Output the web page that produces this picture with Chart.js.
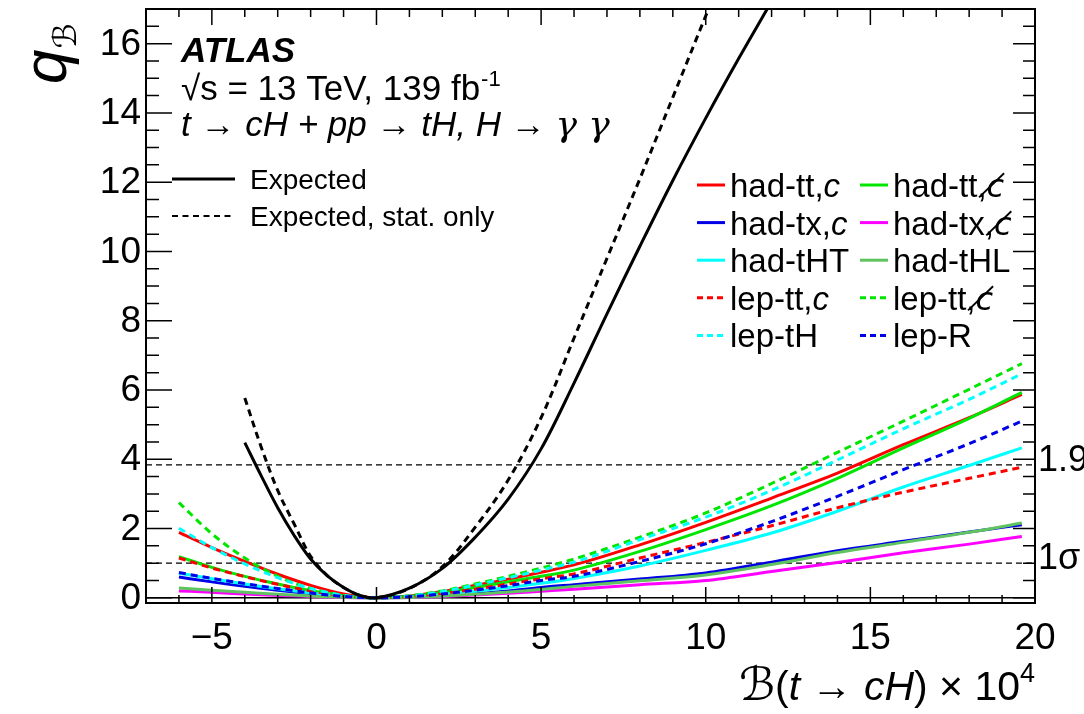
<!DOCTYPE html>
<html>
<head>
<meta charset="utf-8">
<script src="https://cdn.jsdelivr.net/npm/chart.js@4.4.0/dist/chart.umd.min.js"></script>
<style>
  html, body { margin: 0; padding: 0; background: #fff; }
  #wrap { width: 1084px; height: 714px; }
</style>
</head>
<body>
<div id="wrap"><canvas id="qChart" width="1084" height="714"></canvas></div>
<script>
// black curves (combined fit)
const xExp = [-4, -3.5, -3, -2.5, -2, -1.5, -1, -0.5, 0, 1, 2, 3, 4, 5, 6, 7, 8, 9, 10, 11, 12];
const qExpected = [4.48, 3.52, 2.6, 1.8, 1.12, 0.64, 0.3, 0.07, 0, 0.28, 0.85, 1.75, 2.85, 4.3, 6.2, 8.2, 10.15, 12.05, 13.85, 15.57, 17.22];
const qStatOnly = [5.77, 4.35, 3.1, 2.13, 1.2, 0.65, 0.3, 0.07, 0, 0.27, 0.9, 2.04, 3.4, 5.2, 7.5, 9.8, 12.1, 14.45, 16.8, 19.1, 21.4];

// per-category curves
const xCat = [-6, -5, -4, -3, -2, -1, 0, 1, 2, 3, 4, 5, 6, 8, 10, 12, 14, 16, 18, 19.6];
const hadTTc   = [1.89, 1.45, 1.05, 0.68, 0.36, 0.11, 0, 0.05, 0.18, 0.36, 0.54, 0.74, 0.95, 1.53, 2.18, 2.88, 3.6, 4.42, 5.2, 5.87];
const hadTTnc  = [1.19, 0.88, 0.62, 0.4, 0.21, 0.06, 0, 0.04, 0.15, 0.3, 0.46, 0.62, 0.8, 1.34, 1.97, 2.66, 3.45, 4.33, 5.18, 5.93];
const hadTXc   = [0.6, 0.46, 0.33, 0.22, 0.12, 0.03, 0, 0.02, 0.06, 0.12, 0.2, 0.3, 0.38, 0.54, 0.72, 1.03, 1.36, 1.63, 1.9, 2.11];
const hadTXnc  = [0.2, 0.16, 0.11, 0.07, 0.04, 0.01, 0, 0.01, 0.04, 0.08, 0.13, 0.19, 0.25, 0.38, 0.5, 0.76, 1.02, 1.3, 1.55, 1.77];
const hadTHT   = [0.71, 0.55, 0.4, 0.26, 0.14, 0.04, 0, 0.02, 0.09, 0.19, 0.3, 0.42, 0.56, 0.92, 1.37, 1.87, 2.5, 3.2, 3.82, 4.33];
const hadTHL   = [0.28, 0.22, 0.16, 0.1, 0.05, 0.015, 0, 0.01, 0.05, 0.1, 0.17, 0.24, 0.33, 0.49, 0.66, 0.96, 1.31, 1.6, 1.89, 2.16];
const lepTTc   = [1.15, 0.86, 0.61, 0.39, 0.2, 0.06, 0, 0.04, 0.13, 0.25, 0.4, 0.55, 0.69, 1.15, 1.6, 2.08, 2.6, 3.05, 3.45, 3.77];
const lepTTnc  = [2.75, 1.85, 1.15, 0.62, 0.27, 0.07, 0, 0.06, 0.2, 0.4, 0.62, 0.86, 1.12, 1.75, 2.45, 3.3, 4.2, 5.1, 6.02, 6.76];
const lepTH    = [2.01, 1.45, 0.98, 0.58, 0.27, 0.07, 0, 0.05, 0.18, 0.37, 0.58, 0.8, 1.03, 1.68, 2.33, 3.1, 3.98, 4.88, 5.73, 6.47];
const lepR     = [0.73, 0.56, 0.41, 0.27, 0.14, 0.04, 0, 0.03, 0.11, 0.22, 0.35, 0.5, 0.62, 1.05, 1.56, 2.2, 2.93, 3.7, 4.45, 5.1];

// axis ticks and reference levels
const xRange = [-7, 20];
const yRange = [-0.15, 17];
const xTickLabels = [-5, 0, 5, 10, 15, 20];
const yTickLabels = [0, 2, 4, 6, 8, 10, 12, 14, 16];
const refLevels = [1, 3.84];
const refLabels = ["1\u03C3", "1.96\u03C3"];

const FONT = '"Liberation Sans", Arial, Helvetica, "DejaVu Sans", sans-serif';
const SLASHED_C = "c\u0338";

const pts = (xs, ys) => xs.map((x, i) => ({ x: x, y: ys[i] }));

const legendRight = [
  { name: "had-tt,", it: "c", color: "#ff0000", dash: [] },
  { name: "had-tt,", it: SLASHED_C, color: "#00e600", dash: [] },
  { name: "had-tx,", it: "c", color: "#0000e6", dash: [] },
  { name: "had-tx,", it: SLASHED_C, color: "#ff00ff", dash: [] },
  { name: "had-tHT", it: "", color: "#00ffff", dash: [] },
  { name: "had-tHL", it: "", color: "#5fc45f", dash: [] },
  { name: "lep-tt,", it: "c", color: "#ff0000", dash: [6, 4] },
  { name: "lep-tt,", it: SLASHED_C, color: "#00e600", dash: [6, 4] },
  { name: "lep-tH", it: "", color: "#00ffff", dash: [6, 4] },
  { name: "lep-R", it: "", color: "#0000e6", dash: [6, 4] },
];

function line(label, xs, ys, color, dash, width, smooth) {
  const ds = {
    label: label,
    data: pts(xs, ys),
    borderColor: color,
    backgroundColor: color,
    borderWidth: width || 3,
    borderDash: dash,
    pointRadius: 0,
    fill: false,
  };
  if (smooth) ds.tension = 0.35;
  else ds.cubicInterpolationMode = "monotone";
  return ds;
}

const datasets = [
  line("Expected", xExp, qExpected, "#000", [], 3, true),
  line("Expected, stat. only", xExp, qStatOnly, "#000", [7, 5], 3, true),
  line("lep-R", xCat, lepR, "#0000e6", [7, 5]),
  line("lep-tH", xCat, lepTH, "#00ffff", [7, 5]),
  line("lep-tt,c\u0338", xCat, lepTTnc, "#00e600", [7, 5]),
  line("lep-tt,c", xCat, lepTTc, "#ff0000", [7, 5]),
  line("had-tHL", xCat, hadTHL, "#5fc45f", []),
  line("had-tHT", xCat, hadTHT, "#00ffff", []),
  line("had-tx,c\u0338", xCat, hadTXnc, "#ff00ff", []),
  line("had-tx,c", xCat, hadTXc, "#0000e6", []),
  line("had-tt,c\u0338", xCat, hadTTnc, "#00e600", []),
  line("had-tt,c", xCat, hadTTc, "#ff0000", []),
  line("1 sigma", xRange, [refLevels[0], refLevels[0]], "#000", [6, 4], 1.3),
  line("1.96 sigma", xRange, [refLevels[1], refLevels[1]], "#000", [6, 4], 1.3),
  line("zero", xRange, [0, 0], "#000", [], 1.5),
];

function drawPieces(ctx, pieces, x, y) {
  pieces.forEach((p) => {
    ctx.font = p.f;
    ctx.fillText(p.t, x, y + (p.dy || 0));
    x += ctx.measureText(p.t).width;
  });
  return x;
}
function piecesWidth(ctx, pieces) {
  let w = 0;
  pieces.forEach((p) => { ctx.font = p.f; w += ctx.measureText(p.t).width; });
  return w;
}

const decor = {
  id: "decor",
  afterDatasetsDraw(chart) {
    const ctx = chart.ctx;
    const a = chart.chartArea;
    const sx = chart.scales.x;
    const sy = chart.scales.y;
    ctx.save();
    ctx.strokeStyle = "#000";
    ctx.fillStyle = "#000";
    ctx.setLineDash([]);

    // ticks (inside, all four sides)
    ctx.lineWidth = 1.5;
    ctx.beginPath();
    for (let v = xRange[0]; v <= xRange[1]; v++) {
      const px = sx.getPixelForValue(v);
      const len = v % 5 === 0 ? 16 : 8;
      ctx.moveTo(px, a.bottom); ctx.lineTo(px, a.bottom - len);
      ctx.moveTo(px, a.top); ctx.lineTo(px, a.top + len);
    }
    for (let v = 0; v <= 16.9; v += 0.5) {
      const py = sy.getPixelForValue(v);
      const major = v % 2 === 0;
      ctx.moveTo(a.left, py); ctx.lineTo(a.left + (major ? 26 : 13), py);
      ctx.moveTo(a.right, py); ctx.lineTo(a.right - (major ? 22 : 12), py);
    }
    ctx.stroke();

    // frame
    ctx.lineWidth = 2;
    ctx.strokeRect(a.left, a.top, a.right - a.left, a.bottom - a.top);

    // tick labels
    ctx.font = "37px " + FONT;
    ctx.textAlign = "right";
    ctx.textBaseline = "middle";
    yTickLabels.forEach((v) => ctx.fillText(String(v), 141, sy.getPixelForValue(v) + 1));
    ctx.textAlign = "center";
    ctx.textBaseline = "alphabetic";
    xTickLabels.forEach((v) => {
      const t = v < 0 ? "\u2212" + Math.abs(v) : String(v);
      ctx.fillText(t, sx.getPixelForValue(v), 649);
    });

    // reference labels on the right
    ctx.textAlign = "left";
    ctx.font = "36px " + FONT;
    refLevels.forEach((v, i) => ctx.fillText(refLabels[i], a.right + 3, sy.getPixelForValue(v) + 6));

    // x title
    const ff = "41px " + FONT;
    const fi = "italic 41px " + FONT;
    const xt = [
      { t: "\u212C", f: "italic 46px " + FONT }, { t: "(", f: ff }, { t: "t", f: fi }, { t: " \u2192 ", f: ff },
      { t: "cH", f: fi }, { t: ") \u00D7 10", f: ff }, { t: "4", f: "27px " + FONT, dy: -18 },
    ];
    drawPieces(ctx, xt, a.right - piecesWidth(ctx, xt), 700);

    // y title (rotated)
    ctx.save();
    ctx.translate(66, 84);
    ctx.rotate(-Math.PI / 2);
    ctx.font = "italic 62px " + FONT;
    ctx.fillText("q", 0, 0);
    const qw = ctx.measureText("q").width;
    ctx.font = "italic 32px " + FONT;
    ctx.fillText("\u212C", qw + 1, 10);
    ctx.restore();

    // ATLAS block
    ctx.font = "italic bold 35px " + FONT;
    ctx.fillText("ATLAS", 181, 62);
    const f35 = "35px " + FONT;
    const i35 = "italic 35px " + FONT;
    let x = drawPieces(ctx, [{ t: "\u221As = 13 TeV, 139 fb", f: f35 }], 181, 100);
    drawPieces(ctx, [{ t: "-1", f: "22px " + FONT, dy: -14 }], x + 1, 100);
    drawPieces(ctx, [
      { t: "t", f: i35 }, { t: " \u2192 ", f: f35 }, { t: "cH + pp", f: i35 },
      { t: " \u2192 ", f: f35 }, { t: "tH, H", f: i35 }, { t: " \u2192 ", f: f35 },
      { t: "\u03B3 \u03B3", f: 'italic 36px "DejaVu Serif", serif' },
    ], 181, 136);

    // left legend
    ctx.lineWidth = 3;
    ctx.beginPath(); ctx.moveTo(172, 179); ctx.lineTo(235, 179); ctx.stroke();
    ctx.lineWidth = 2;
    ctx.setLineDash([6, 4.5]);
    ctx.beginPath(); ctx.moveTo(172, 216); ctx.lineTo(235, 216); ctx.stroke();
    ctx.setLineDash([]);
    ctx.font = "28px " + FONT;
    ctx.fillText("Expected", 250, 189);
    ctx.fillText("Expected, stat. only", 250, 226);

    // right legend, two columns
    legendRight.forEach((e, i) => {
      const col = i % 2;
      const row = Math.floor(i / 2);
      const cy = 185 + row * 37.6;
      const lx = col === 0 ? 697 : 860;
      ctx.strokeStyle = e.color;
      ctx.lineWidth = 3;
      ctx.setLineDash(e.dash);
      ctx.beginPath(); ctx.moveTo(lx, cy); ctx.lineTo(lx + 28, cy); ctx.stroke();
      ctx.setLineDash([]);
      const itFont = e.it === SLASHED_C ? 'italic 32px "DejaVu Sans", sans-serif' : "italic 33px " + FONT;
      drawPieces(ctx, [
        { t: e.name, f: "33px " + FONT },
        { t: e.it, f: itFont },
      ], lx + 33, cy + 12);
    });
    ctx.restore();
  },
};

new Chart(document.getElementById("qChart").getContext("2d"), {
  type: "line",
  data: { datasets: datasets },
  options: {
    responsive: false,
    animation: false,
    layout: { padding: { left: 146, right: 49, top: 9, bottom: 111 } },
    scales: {
      x: { type: "linear", min: xRange[0], max: xRange[1], display: false },
      y: { type: "linear", min: yRange[0], max: yRange[1], display: false },
    },
    plugins: { legend: { display: false }, tooltip: { enabled: false } },
  },
  plugins: [decor],
});
</script>
</body>
</html>
